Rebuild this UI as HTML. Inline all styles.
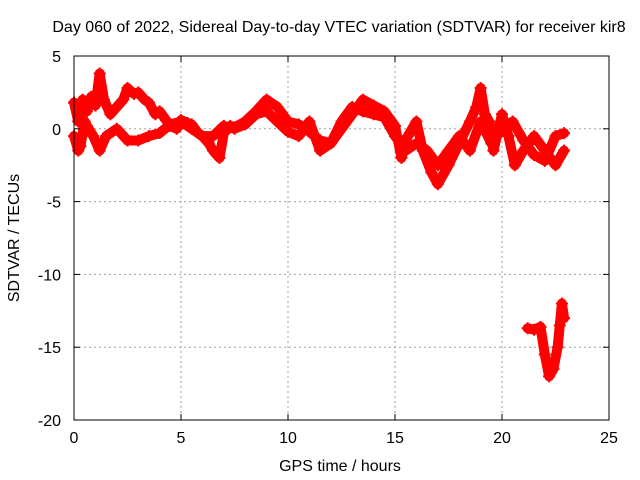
<!DOCTYPE html>
<html><head><meta charset="utf-8"><style>
body{margin:0;background:#fff}
svg{display:block;font-family:"Liberation Sans",sans-serif}
</style></head><body>
<svg id="c" width="640" height="480" xmlns="http://www.w3.org/2000/svg">
<rect width="640" height="480" fill="#fff"/>
<text x="339" y="32" font-size="16" text-anchor="middle">Day 060 of 2022, Sidereal Day-to-day VTEC variation (SDTVAR) for receiver kir8</text>
<text x="340" y="471" font-size="16" text-anchor="middle">GPS time / hours</text>
<text transform="translate(19,238) rotate(-90)" font-size="16" text-anchor="middle">SDTVAR / TECUs</text>
<g id="grid"></g><g id="marks"></g>
<rect x="74" y="56" width="535" height="364" fill="none" stroke="#000" stroke-width="1"/>
<g id="ticks"></g>
</svg>
<script>
const xTicks=[0,5,10,15,20,25];
const yTicks=[5,0,-5,-10,-15,-20];
const s1h=[0,0.2,0.4,0.6,0.8,1.0,1.2,1.4,1.7,2.0,2.3,2.5,2.8,3.0,3.3,3.5,3.8,4.0,4.3,4.5,4.8,5.0,5.3,5.5,5.8,6.0,6.3,6.5,6.8,7.0,7.3,7.5,8.0,8.5,9.0,9.5,10.0,10.5,11.0,11.5,12.0,12.5,13.0,13.5,14.0,14.5,15.0,15.3,15.6,16.0,16.3,16.7,17.0,17.5,18.0,18.5,18.8,19.0,19.2,19.4,19.6,20.0,20.3,20.6,21.0,21.5,22.0,22.5,22.9];
const s1v=[1.8,0.5,2.0,1.2,2.2,1.6,3.8,2.0,1.0,1.5,2.0,2.8,2.4,2.5,2.0,1.8,1.0,1.2,0.6,0.2,0.0,0.6,0.4,0.3,-0.3,-0.5,-1.0,-1.5,-2.0,-0.3,0.2,0.1,0.5,1.2,2.0,1.5,0.5,0.3,-0.2,-0.8,-1.0,0.0,1.0,2.0,1.6,1.2,0.2,-2.0,-0.5,0.5,-1.5,-3.0,-3.8,-2.5,-1.0,0.5,1.5,2.8,1.0,0.5,-1.5,1.0,-0.5,-2.5,-1.5,-0.5,-1.5,-2.5,-1.5];
const s2h=[0,0.2,0.3,0.5,0.6,0.9,1.2,1.5,2.0,2.5,3.0,3.5,4.0,4.5,5.0,5.5,6.0,6.5,7.0,7.5,8.0,8.5,9.0,9.5,10.0,10.5,11.0,11.5,12.0,12.5,13.0,13.5,14.0,14.5,15.0,15.5,16.0,16.5,17.0,17.5,18.0,18.5,19.0,19.5,20.0,20.5,21.0,21.5,22.0,22.5,22.9];
const s2v=[-0.5,-1.5,-1.2,0.5,0.2,-0.5,-1.5,-0.5,0.0,-0.8,-0.8,-0.5,-0.3,0.3,0.5,0.0,-0.5,-0.5,0.2,0.0,0.3,1.0,1.2,0.5,-0.2,-0.5,0.5,-1.5,-1.0,0.5,1.5,1.2,1.0,0.8,-0.5,-1.5,-1.0,-1.5,-2.5,-1.5,-0.5,-1.5,0.5,-1.0,0.0,0.5,-0.8,-1.8,-2.2,-0.5,-0.3];
const s3h=[21.2,21.5,21.8,22.0,22.2,22.4,22.6,22.7,22.8,22.9];
const s3v=[-13.7,-13.8,-13.6,-15.5,-17.0,-16.5,-15.0,-13.5,-12.0,-13.0];
const X=h=>74+h*535/25, Y=v=>56+(5-v)*364/25;
const NS="http://www.w3.org/2000/svg";
function mk(t,a,p){const e=document.createElementNS(NS,t);for(const k in a)e.setAttribute(k,a[k]);p.appendChild(e);return e;}
const grid=document.getElementById('grid'),ticks=document.getElementById('ticks'),marks=document.getElementById('marks');
xTicks.forEach(t=>{const x=X(t);
 if(t>0&&t<25){const g=mk('line',{x1:x,x2:x,y1:56,y2:420,stroke:'#a0a0a0','stroke-dasharray':'2,3'},grid);
 
 }
 mk('line',{x1:x,x2:x,y1:420,y2:414,stroke:'#000'},ticks);mk('line',{x1:x,x2:x,y1:56,y2:62,stroke:'#000'},ticks);
 const l=mk('text',{x:x,y:443,'font-size':16,'text-anchor':'middle'},ticks);l.textContent=t;
 
 });
yTicks.forEach(t=>{const y=Y(t);
 if(t<5&&t>-20){const g=mk('line',{x1:74,x2:609,y1:y,y2:y,stroke:'#a0a0a0','stroke-dasharray':'2,3'},grid);
 
 }
 mk('line',{x1:74,x2:80,y1:y,y2:y,stroke:'#000'},ticks);mk('line',{x1:609,x2:603,y1:y,y2:y,stroke:'#000'},ticks);
 const l=mk('text',{x:61,y:y+6,'font-size':16,'text-anchor':'end'},ticks);l.textContent=t;
 
 });
function series(hs,vs,name){
 const g=mk('g',{},marks);
 
 
 mk('polyline',{points:hs.map((h,i)=>X(h)+','+Y(vs[i])).join(' '),fill:'none',stroke:'#f00','stroke-width':10,'stroke-linejoin':'round','stroke-linecap':'round'},g);
 hs.forEach((h,i)=>{const x=X(h),y=Y(vs[i]);
  const p=mk('path',{d:`M${x-6},${y}h12M${x},${y-6}v12`,stroke:'#f00','stroke-width':2},g);
  
  });
}
series(s1h,s1v,'series-upper');
series(s2h,s2v,'series-lower');
series(s3h,s3v,'series-deep');
</script>
</body></html>
